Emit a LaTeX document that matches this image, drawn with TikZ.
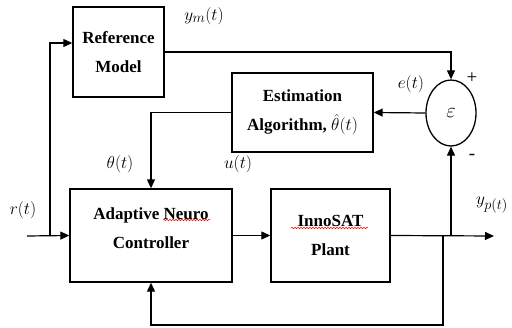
\documentclass[tikz,border=0pt]{standalone}
\usepackage{fontspec}
\setmainfont{Liberation Serif}
\usetikzlibrary{arrows.meta,positioning,calc,shapes.geometric,decorations.pathmorphing}
\tikzset{
  blk/.style={rectangle,draw,line width=1.4pt,align=center,inner sep=2pt,font=\bfseries\fontsize{17}{29}\selectfont},
  sumnode/.style={ellipse,draw,line width=1.3pt,minimum width=50pt,minimum height=66pt,inner sep=0pt,font=\fontsize{22}{24}\selectfont},
  sig/.style={-{Triangle[length=9pt,width=8pt]},line width=1.2pt},
  lbl/.style={font=\fontsize{19}{22}\selectfont,inner sep=0pt},
  squig/.style={red,line width=0.5pt,decorate,decoration={snake,amplitude=0.8pt,segment length=3pt}}
}

\begin{document}
\begin{tikzpicture}[x=1pt,y=-1pt]
\useasboundingbox (0,0) rectangle (512,328);
% blocks
\node[blk,minimum width=91pt,minimum height=90pt] (refm) at (118.5,52) {Reference\\Model};
\node[blk,minimum width=141pt,minimum height=79pt] (est) at (302.5,112.5) {Estimation\\Algorithm, $\hat{\theta}(t)$};
\node[sumnode] (sum) at (451,113) {$\varepsilon$};
\node[blk,minimum width=162pt,minimum height=93pt] (ctrl) at (151,235.5) {Adaptive Neuro\\Controller\\[-14pt]};
\node[blk,minimum width=119pt,minimum height=93pt] (plant) at (330.5,235.5) {InnoSAT\\Plant};
% spelling marks under the box texts
\draw[squig] (163,220) -- (210,220);
\draw[squig] (291,228) -- (368,228);
% signal labels
\node[lbl] (lym) at (204,16) {$y_m(t)$};
\node[lbl] (le) at (411,84) {$e(t)$};
\node[lbl] (lplus) at (472,78) {+};
\node[lbl] (lminus) at (472,157) {-};
\node[lbl] (lth) at (120,164) {$\theta(t)$};
\node[lbl] (lu) at (238,164) {$u(t)$};
\node[lbl] (lr) at (23,210) {$r(t)$};
\node[lbl] (lyp) at (492,205) {$y_{p(t)}$};
% connections
\coordinate (rin) at (27,236);
\coordinate (rsplit) at (50,236);
\coordinate (yout) at (494,236);
\coordinate (fb) at (443,236);
\draw[sig] (rin) -- (ctrl.west);
\draw[sig] (rsplit) |- ($(refm.west)+(0,-9)$);
\draw[sig] (refm.east) -| (sum.north);
\draw[sig] (sum.west) -- (est.east);
\draw[sig] (est.west) -| (ctrl.north);
\draw[sig] (ctrl.east) -- (plant.west);
\draw[sig] (plant.east) -- (yout);
\draw[sig] (sum.south |- plant.east) -- (sum.south);
\draw[sig] (fb) -- ++(0,89) -| (ctrl.south);
\end{tikzpicture}
\end{document}
